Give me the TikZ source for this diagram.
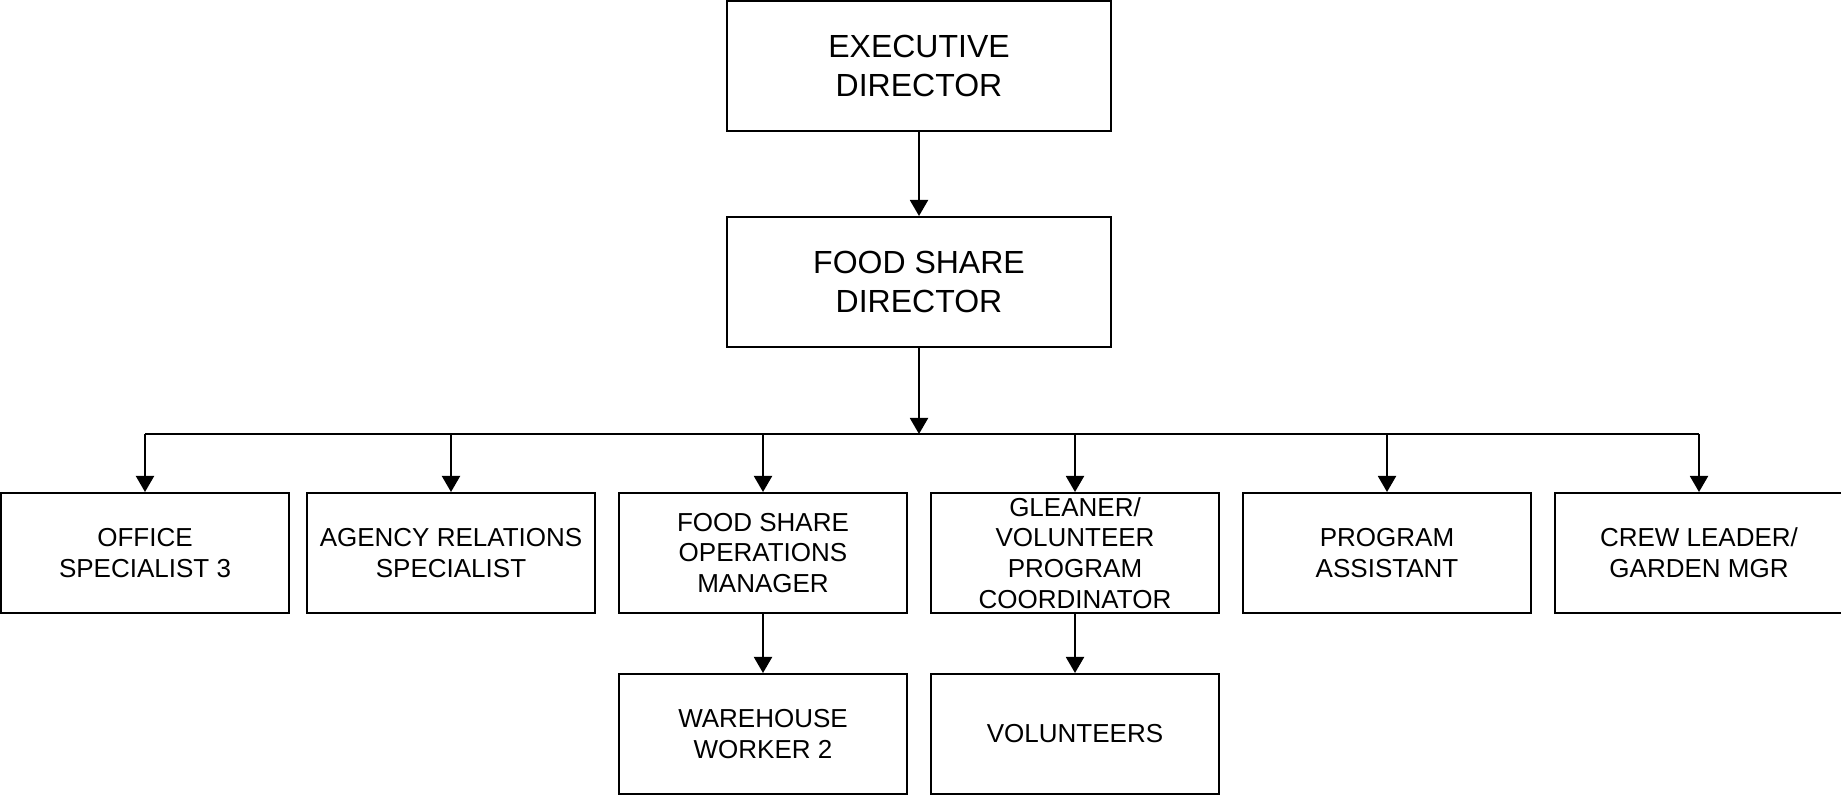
\documentclass[tikz,border=0pt]{standalone}
\usepackage{fontspec}
\setmainfont{Liberation Sans}
\usetikzlibrary{arrows.meta}

\tikzset{
	box/.style={draw, line width=1pt, inner sep=0pt, align=center, minimum width=144pt, minimum height=60pt, font=\fontsize{13}{15.3}\selectfont},
	bigbox/.style={box, minimum width=192pt, minimum height=65pt, font=\fontsize{16}{19.6}\selectfont},
	arr/.style={line width=1pt, -{Triangle[width=9pt,length=8pt]}}
}

\begin{document}
\begin{tikzpicture}[x=0.5pt, y=-0.5pt]
			%%%%% START %%%%%
			\useasboundingbox (0, 0) rectangle (1841, 795);
			
			\node[bigbox] (exec) at (919, 66) {EXECUTIVE\\DIRECTOR};
			\node[bigbox] (fsd) at (919, 282) {FOOD SHARE\\DIRECTOR};
			\coordinate (bus) at (919, 434);
			
			\node[box] (office) at (145, 553) {OFFICE\\SPECIALIST 3};
			\node[box] (agency) at (451, 553) {AGENCY RELATIONS\\SPECIALIST};
			\node[box] (ops) at (763, 553) {FOOD SHARE\\OPERATIONS\\MANAGER};
			\node[box] (gleaner) at (1075, 553) {GLEANER/\\VOLUNTEER\\PROGRAM\\COORDINATOR};
			\node[box] (prog) at (1387, 553) {PROGRAM\\ASSISTANT};
			\node[box] (crew) at (1699, 553) {CREW LEADER/\\GARDEN MGR};
			
			\node[box] (warehouse) at (763, 734) {WAREHOUSE\\WORKER 2};
			\node[box] (vol) at (1075, 734) {VOLUNTEERS};
			
			\draw[arr] (exec) -- (fsd);
			\draw[arr] (fsd) -- (bus);
			\draw[line width=1pt] (office.north |- bus) -- (crew.north |- bus);
			\foreach \n in {office, agency, ops, gleaner, prog, crew}
				\draw[arr] (\n.north |- bus) -- (\n.north);
			
			\draw[arr] (ops) -- (warehouse);
			\draw[arr] (gleaner) -- (vol);
			%%%%% END %%%%%
\end{tikzpicture}
\end{document}
